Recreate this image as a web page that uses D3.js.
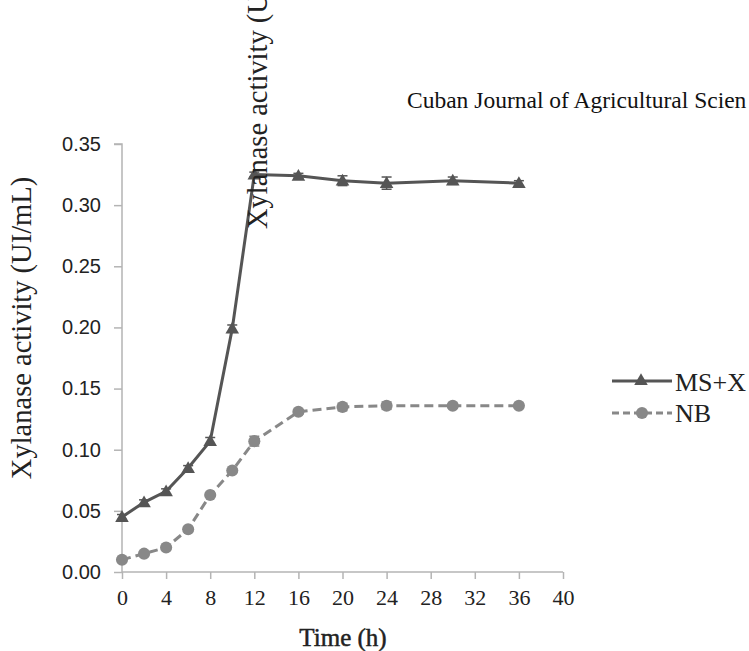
<!DOCTYPE html>
<html><head><meta charset="utf-8">
<script src="https://cdn.jsdelivr.net/npm/d3@7"></script>
<style>body{margin:0;background:#fff}svg{display:block}</style>
</head><body>
<script>
const hours = [0, 2, 4, 6, 8, 10, 12, 16, 20, 24, 30, 36];
const msx = [0.045, 0.057, 0.066, 0.085, 0.107, 0.199, 0.325, 0.324, 0.320, 0.318, 0.320, 0.318];
const msxErr = [0.002, 0.002, 0.002, 0.002, 0.003, 0.003, 0.002, 0.002, 0.004, 0.005, 0.003, 0.002];
const nb = [0.010, 0.015, 0.020, 0.035, 0.063, 0.083, 0.107, 0.131, 0.135, 0.136, 0.136, 0.136];
const nbErr = [0.001, 0.001, 0.001, 0.001, 0.001, 0.001, 0.004, 0.002, 0.003, 0.003, 0.002, 0.002];
const xTicks = [0, 4, 8, 12, 16, 20, 24, 28, 32, 36, 40];
const yTicks = [0, 0.05, 0.10, 0.15, 0.20, 0.25, 0.30, 0.35];
const seriesNames = ["MS+X", "NB"];

const W = 749, H = 651;
const svg = d3.select("body").append("svg").attr("width", W).attr("height", H);
const x = d3.scaleLinear().domain([0, 40]).range([122, 563]);
const y = d3.scaleLinear().domain([0, 0.35]).range([572, 144]);
const axisCol = "#b4b4b4";
const serif = "Liberation Serif";

// header text
svg.append("text").attr("x", 407).attr("y", 108)
  .attr("font-family", serif).attr("font-size", 23.5).attr("fill", "#111")
  .text("Cuban Journal of Agricultural Scien");

// axes
const gy = svg.append("g").attr("transform", "translate(122,0)")
  .call(d3.axisLeft(y).tickValues(yTicks).tickSize(8).tickPadding(13).tickFormat(d3.format(".2f")));
const gx = svg.append("g").attr("transform", "translate(0,572)")
  .call(d3.axisBottom(x).tickValues(xTicks).tickSize(7).tickPadding(10).tickSizeOuter(0));
[gy, gx].forEach(g => {
  g.select(".domain").attr("stroke", axisCol).attr("stroke-width", 1.5);
  g.selectAll(".tick line").attr("stroke", axisCol).attr("stroke-width", 1.5);
});
gy.select(".domain").attr("d", "M-8,144H0V572");
gy.selectAll(".tick text").attr("font-family", "Liberation Sans Narrow, Liberation Sans").attr("font-size", 20).attr("fill", "#222");
gx.select(".domain").attr("d", "M122,0H563");
gx.selectAll(".tick text").attr("font-family", serif).attr("font-size", 22).attr("fill", "#222");

// axis titles
svg.append("text").attr("transform", "translate(31,328) rotate(-90)").attr("text-anchor", "middle")
  .attr("font-family", serif).attr("font-size", 28.5).attr("fill", "#222")
  .text("Xylanase activity (UI/mL)");
svg.append("text").attr("x", 343).attr("y", 646).attr("text-anchor", "middle")
  .attr("font-family", serif).attr("font-size", 25).attr("fill", "#222")
  .attr("stroke", "#222").attr("stroke-width", 0.5)
  .text("Time  (h)");

const msCol = "#555", nbCol = "#888";
const line = d3.line().x((d, i) => x(hours[i])).y(d => y(d));

// NB
svg.append("path").datum(nb).attr("d", line).attr("fill", "none").attr("stroke", nbCol)
  .attr("stroke-width", 3).attr("stroke-dasharray", "9,5");
// MS+X
svg.append("path").datum(msx).attr("d", line).attr("fill", "none").attr("stroke", msCol)
  .attr("stroke-width", 3);

function errBars(vals, errs, col) {
  const g = svg.append("g").attr("stroke", col).attr("stroke-width", 1.5);
  vals.forEach((v, i) => {
    const cx = x(hours[i]);
    g.append("line").attr("x1", cx).attr("x2", cx).attr("y1", y(v - errs[i])).attr("y2", y(v + errs[i]));
    [v - errs[i], v + errs[i]].forEach(e => g.append("line").attr("x1", cx - 5).attr("x2", cx + 5).attr("y1", y(e)).attr("y2", y(e)));
  });
}
errBars(msx, msxErr, msCol);
errBars(nb, nbErr, nbCol);

const tri = d3.symbol().type(d3.symbolTriangle).size(80);
const circ = d3.symbol().type(d3.symbolCircle).size(115);
svg.append("g").selectAll("path").data(msx).join("path")
  .attr("d", tri).attr("transform", (d, i) => `translate(${x(hours[i])},${y(d) + 1})`).attr("fill", msCol);
svg.append("g").selectAll("path").data(nb).join("path")
  .attr("d", circ).attr("transform", (d, i) => `translate(${x(hours[i])},${y(d)})`).attr("fill", nbCol);

// overlapping rotated text
svg.append("text").attr("transform", "translate(267,229) rotate(-90)")
  .attr("font-family", serif).attr("font-size", 28.5).attr("fill", "#222")
  .text("Xylanase activity (UI");

// legend
const lg = svg.append("g");
lg.append("line").attr("x1", 612).attr("x2", 672).attr("y1", 381).attr("y2", 381).attr("stroke", msCol).attr("stroke-width", 3);
lg.append("path").attr("d", tri).attr("transform", "translate(641,381)").attr("fill", msCol);
lg.append("text").attr("x", 675).attr("y", 391).attr("font-family", serif).attr("font-size", 26).attr("fill", "#222").text(seriesNames[0]);
lg.append("line").attr("x1", 612).attr("x2", 672).attr("y1", 413).attr("y2", 413).attr("stroke", nbCol).attr("stroke-width", 3).attr("stroke-dasharray", "7,4");
lg.append("path").attr("d", circ).attr("transform", "translate(642,413)").attr("fill", nbCol);
lg.append("text").attr("x", 675).attr("y", 422).attr("font-family", serif).attr("font-size", 26).attr("fill", "#222").text(seriesNames[1]);
</script>
</body></html>
